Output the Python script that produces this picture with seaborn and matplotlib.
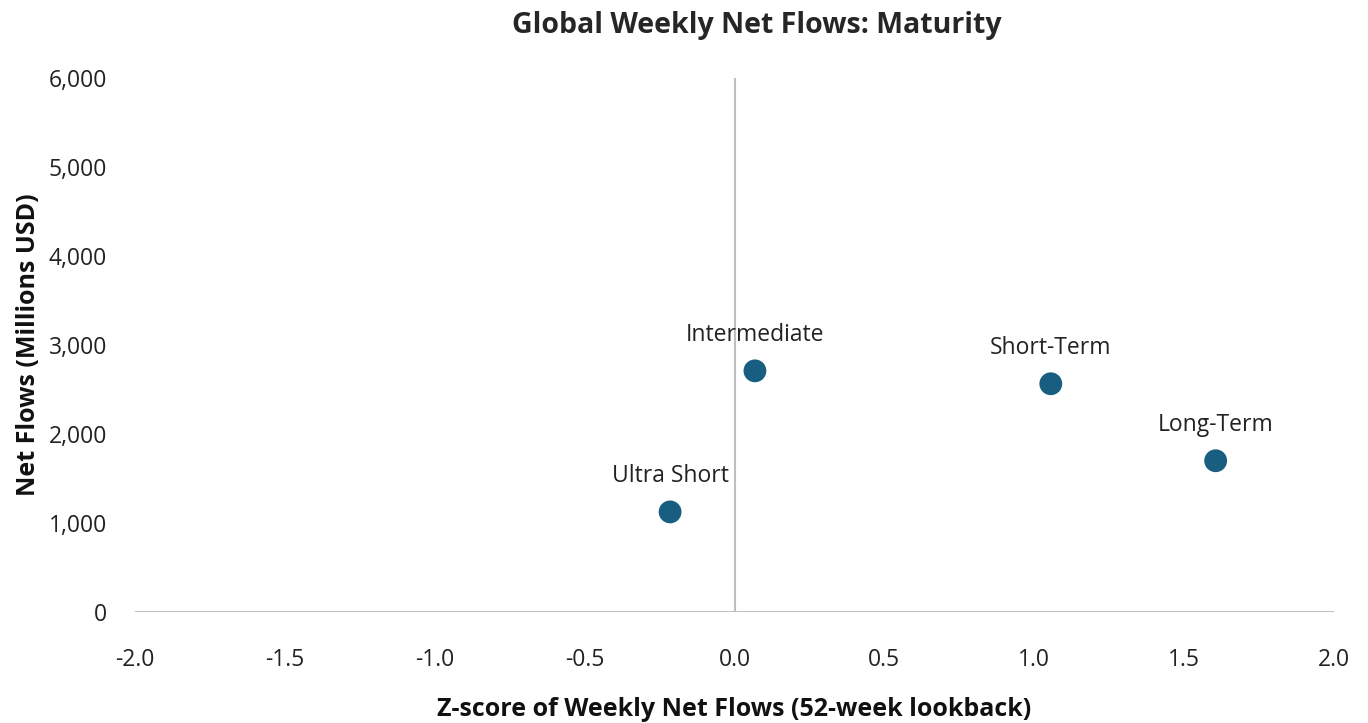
import matplotlib
matplotlib.use("Agg")
import matplotlib.pyplot as plt
import seaborn as sns
import pandas as pd

categories = ["Ultra Short", "Intermediate", "Short-Term", "Long-Term"]
zscores = [-0.215, 0.068, 1.055, 1.605]
net_flows = [1125, 2710, 2565, 1700]
x_ticks = [-2.0, -1.5, -1.0, -0.5, 0.0, 0.5, 1.0, 1.5, 2.0]
y_ticks = [0, 1000, 2000, 3000, 4000, 5000, 6000]

sns.set_theme(style="white")
plt.rcParams['font.family'] = ['Liberation Sans Narrow', 'Open Sans', 'DejaVu Sans']

df = pd.DataFrame({"cat": categories, "z": zscores, "flow": net_flows})

fig = plt.figure(figsize=(13.68, 7.23), dpi=100)
ax = fig.add_axes([0.0987, 0.1535, 0.8765, 0.7385])
sns.scatterplot(data=df, x="z", y="flow", ax=ax, color="#175e80", s=270,
                edgecolor="none", legend=False, zorder=3)

for _, r in df.iterrows():
    ax.annotate(r["cat"], (r["z"], r["flow"]), xytext=(0, 26), textcoords="offset points",
                ha="center", va="center", fontsize=16.5, color="#222222")

ax.set_xlim(-2, 2)
ax.set_ylim(0, 6000)
ax.set_xticks(x_ticks)
ax.set_xticklabels([f"{t:.1f}" for t in x_ticks])
ax.set_yticks(y_ticks)
ax.set_yticklabels([f"{t:,}" for t in y_ticks])
ax.tick_params(axis="both", labelsize=16.5, colors="#222222", length=0)
ax.tick_params(axis="x", pad=26)
ax.tick_params(axis="y", pad=20)

for s in ["top", "right", "left", "bottom"]:
    ax.spines[s].set_visible(False)
ax.axhline(0, color="#bfbfbf", lw=1.5, zorder=1)
ax.axvline(0, color="#bfbfbf", lw=1.5, zorder=1)

ax.set_xlabel("Z-score of Weekly Net Flows (52-week lookback)", fontsize=18, fontweight="bold",
              color="#111111", labelpad=18)
ax.set_ylabel("Net Flows (Millions USD)", fontsize=18, fontweight="bold", color="#111111", labelpad=6)
fig.suptitle("Global Weekly Net Flows: Maturity", fontsize=20.5, fontweight="bold", y=0.985, x=0.553)

fig.savefig("out.png", dpi=100)
